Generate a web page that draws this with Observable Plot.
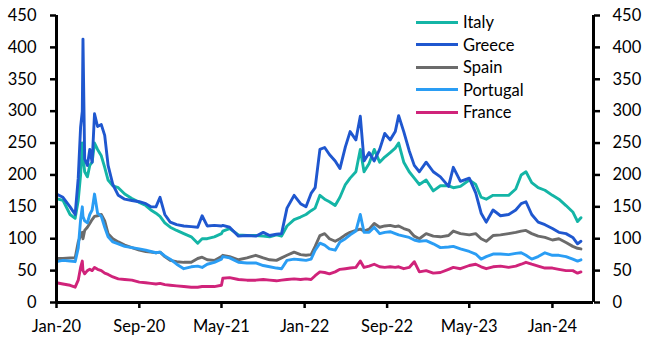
<!DOCTYPE html>
<html>
<head>
<meta charset="utf-8">
<script src="https://cdn.jsdelivr.net/npm/d3@7"></script>
<script src="https://cdn.jsdelivr.net/npm/@observablehq/plot@0.6"></script>
<style>
  html, body { margin: 0; padding: 0; background: #fff; }
  #wrap { position: relative; width: 659px; height: 355px; font-family: Lato, "Open Sans", sans-serif; }
  #legend { position: absolute; left: 416px; top: 11px; font-size: 16.5px; color: #000; }
  .row { display: flex; align-items: center; height: 22.5px; }
  .sw { width: 42px; height: 3px; margin-right: 5px; }
</style>
</head>
<body>
<div id="wrap"><div id="legend"></div></div>
<script>
const dates = [
"2020-01-01","2020-01-20","2020-02-10","2020-02-25","2020-03-05","2020-03-12","2020-03-17","2020-03-19","2020-03-24","2020-04-01",
"2020-04-08","2020-04-15","2020-04-22","2020-05-01","2020-05-12","2020-05-22","2020-06-01","2020-06-15","2020-07-01","2020-07-20",
"2020-08-10","2020-09-01","2020-09-20","2020-10-05","2020-10-20","2020-11-01","2020-11-15","2020-12-01","2020-12-20","2021-01-10",
"2021-02-01","2021-02-20","2021-03-05","2021-03-20","2021-04-10","2021-05-01","2021-05-05","2021-05-25","2021-06-20","2021-07-15",
"2021-08-10","2021-09-01","2021-09-20","2021-10-10","2021-10-25","2021-11-10","2021-12-01","2021-12-20","2022-01-05","2022-01-20",
"2022-02-01","2022-02-15","2022-03-01","2022-03-15","2022-04-01","2022-04-15","2022-05-01","2022-05-15","2022-06-01","2022-06-14",
"2022-06-25","2022-07-10","2022-07-25","2022-08-10","2022-08-25","2022-09-10","2022-09-25","2022-10-05","2022-10-20","2022-11-05",
"2022-11-20","2022-12-05","2022-12-25","2023-01-15","2023-02-05","2023-03-01","2023-03-15","2023-04-05","2023-05-01","2023-05-20",
"2023-06-05","2023-06-20","2023-07-10","2023-08-01","2023-08-25","2023-09-15","2023-10-01","2023-10-15","2023-11-01","2023-11-20",
"2023-12-10","2024-01-01","2024-01-20","2024-02-10","2024-03-01","2024-03-15","2024-03-25"
];

const italy = [
163,160,138,132,160,200,250,230,205,197,
215,220,250,240,230,212,192,183,180,170,
163,157,152,145,140,135,125,118,113,108,
103,93,100,100,103,108,112,116,106,105,
105,104,103,106,104,120,130,134,138,144,
148,168,162,158,152,165,185,195,205,240,
205,218,240,220,228,235,242,250,220,205,
195,185,192,175,183,183,180,182,192,185,
165,162,168,168,168,178,200,205,188,180,
176,168,162,152,142,127,133
];

const greece = [
170,165,150,138,195,275,300,413,225,215,
240,220,296,276,279,262,215,185,168,162,
160,158,155,150,150,165,138,126,122,120,
119,118,136,120,121,120,121,118,104,105,
104,110,105,107,108,148,168,155,150,171,
180,240,243,232,222,210,244,268,255,292,
222,235,222,240,265,255,268,293,268,238,
215,205,220,205,197,182,212,190,195,172,
140,126,145,136,138,145,155,158,138,126,
122,116,110,108,102,92,96
];

const spain = [
69,69,70,70,95,105,110,100,113,118,
124,130,135,136,138,128,108,100,95,90,
86,82,80,79,78,79,72,66,64,63,
63,69,71,67,66,72,74,72,67,70,
74,70,67,66,70,74,79,75,74,75,
88,105,108,100,96,100,106,110,113,115,
112,115,124,118,120,121,119,120,116,113,
104,100,108,104,103,105,112,108,106,108,
100,96,105,106,108,110,112,113,108,104,
102,98,100,94,88,85,84
];

const portugal = [
64,66,65,64,85,130,150,135,128,125,
138,145,170,140,135,118,103,95,92,88,
86,84,82,80,78,79,73,68,60,53,
56,57,55,60,63,68,72,70,63,62,
62,58,56,54,53,66,68,67,66,68,
82,93,90,84,82,95,100,106,112,138,
110,110,118,108,110,111,108,106,104,102,
98,96,97,92,86,87,88,84,80,76,
68,72,76,76,75,77,78,74,68,72,
78,74,74,72,68,65,67
];

const france = [
31,29,27,24,35,55,65,50,45,50,
52,50,55,52,50,46,44,40,37,36,
35,32,31,30,29,30,28,27,26,25,
24,24,25,25,25,27,38,39,36,35,
35,36,35,34,35,36,37,36,37,36,
42,48,47,45,48,52,53,54,55,65,
55,57,60,56,55,56,55,56,53,55,
64,48,50,46,47,52,55,53,58,60,
56,53,56,57,55,57,60,63,60,57,
54,54,52,50,50,46,48
];

const seriesNames = ["Italy", "Greece", "Spain", "Portugal", "France"];
const seriesColors = ["#14B5A6", "#1F57CF", "#6B6B6B", "#2A9DF4", "#D0237A"];
const seriesValues = [italy, greece, spain, portugal, france];

const xDomain = ["2020-01-01", "2024-05-01"];
const xTicks = ["2020-01-01","2020-09-01","2021-05-01","2022-01-01","2022-09-01","2023-05-01","2024-01-01"];
const yTicks = [0, 50, 100, 150, 200, 250, 300, 350, 400, 450];

const parse = d3.utcParse("%Y-%m-%d");
const fmt = d3.utcFormat("%b-%y");

const marks = [];
seriesValues.forEach((vals, k) => {
  const rows = dates.map((d, i) => ({date: parse(d), value: vals[i]}));
  marks.push(Plot.lineY(rows, {x: "date", y: "value", stroke: seriesColors[k], strokeWidth: 2.9, strokeLinejoin: "round"}));
});

const chart = Plot.plot({
  width: 659,
  height: 355,
  marginLeft: 56,
  marginRight: 66,
  marginTop: 15,
  marginBottom: 53,
  style: {fontFamily: "Lato, 'Open Sans', sans-serif", fontSize: "16.5px", color: "#000", background: "transparent"},
  x: {type: "utc", domain: xDomain.map(parse)},
  y: {domain: [0, 450]},
  marks: [
    ...marks,
    Plot.ruleY([0], {stroke: "#000", strokeWidth: 3}),
    Plot.ruleX([parse(xDomain[0])], {stroke: "#000", strokeWidth: 3}),
    Plot.ruleX([parse(xDomain[1])], {stroke: "#000", strokeWidth: 3}),
    Plot.axisX(xTicks.map(parse), {anchor: "bottom", tickSize: 6, tickPadding: 12, tickFormat: fmt, strokeWidth: 2.5, label: null, fontSize: 16.5}),
    Plot.axisY(yTicks, {anchor: "left", tickSize: 6, tickPadding: 14, strokeWidth: 2.5, label: null, fontSize: 16.5}),
    Plot.axisY(yTicks, {anchor: "right", tickSize: 6, tickPadding: 13, strokeWidth: 2.5, label: null, fontSize: 16.5})
  ]
});

const wrap = document.getElementById("wrap");
wrap.insertBefore(chart, wrap.firstChild);

const legend = document.getElementById("legend");
seriesNames.forEach((name, k) => {
  const row = document.createElement("div");
  row.className = "row";
  const sw = document.createElement("span");
  sw.className = "sw";
  sw.style.background = seriesColors[k];
  const t = document.createElement("span");
  t.textContent = name;
  row.appendChild(sw);
  row.appendChild(t);
  legend.appendChild(row);
});
</script>
</body>
</html>
